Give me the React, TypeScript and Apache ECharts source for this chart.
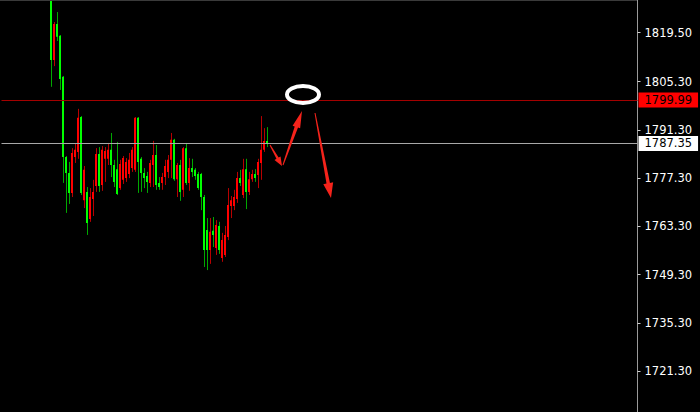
import React, { useEffect, useRef } from "react";
import * as echarts from "echarts";

const CATEGORY_COUNT = 212;
const FIRST_INDEX = 16;

const opens = [
  1831.9, 1811.6, 1822.0, 1818.6, 1806.7, 1783.4, 1778.8, 1773.0, 1783.4, 1784.9,
  1795.0, 1770.9, 1773.3, 1765.4, 1771.2, 1775.0, 1784.3, 1775.3, 1782.9, 1782.9,
  1785.5, 1781.1, 1779.9, 1774.4, 1776.8, 1777.3, 1778.5, 1780.2, 1779.7, 1794.8,
  1782.9, 1778.8, 1777.9, 1775.9, 1781.1, 1784.0, 1775.9, 1775.9, 1777.6, 1779.1,
  1782.6, 1788.4, 1777.0, 1781.1, 1773.9, 1786.0, 1775.9, 1780.2, 1779.7, 1778.5,
  1778.5, 1771.8, 1762.2, 1756.4, 1762.0, 1757.0, 1763.4, 1754.1, 1755.0, 1760.2,
  1769.2, 1769.2, 1771.2, 1777.3, 1772.4, 1779.9, 1773.3, 1777.0, 1778.5, 1778.2,
  1781.7, 1785.5, 1788.1,
];
const closes = [
  1811.6, 1822.0, 1818.3, 1806.1, 1783.4, 1778.8, 1773.0, 1784.6, 1785.5, 1794.8,
  1773.0, 1779.7, 1764.3, 1771.8, 1773.3, 1784.3, 1775.0, 1785.5, 1785.2, 1785.5,
  1781.1, 1776.2, 1772.7, 1781.4, 1783.1, 1782.0, 1782.6, 1785.5, 1794.8, 1782.0,
  1778.8, 1777.3, 1776.2, 1781.7, 1784.0, 1775.3, 1774.7, 1777.6, 1780.8, 1782.6,
  1788.4, 1777.0, 1781.1, 1773.3, 1786.0, 1775.9, 1780.2, 1779.1, 1777.9, 1774.4,
  1771.8, 1756.4, 1756.4, 1761.7, 1760.8, 1763.7, 1756.4, 1759.3, 1760.8, 1769.5,
  1770.9, 1771.8, 1777.3, 1775.9, 1779.9, 1773.3, 1777.0, 1778.5, 1777.3, 1782.0,
  1785.5, 1788.1, 1787.35,
];
const lows = [
  1803.8, 1809.8, 1817.1, 1802.9, 1775.9, 1767.2, 1769.8, 1771.8, 1781.7, 1782.9,
  1772.4, 1768.6, 1760.8, 1764.6, 1766.3, 1773.3, 1773.3, 1773.6, 1776.2, 1781.1,
  1777.6, 1774.7, 1772.4, 1773.9, 1775.6, 1776.2, 1777.3, 1779.1, 1779.1, 1773.0,
  1773.3, 1774.4, 1773.0, 1774.7, 1774.7, 1773.9, 1773.9, 1773.9, 1775.3, 1777.3,
  1777.3, 1776.5, 1771.8, 1770.7, 1771.8, 1775.3, 1773.6, 1777.6, 1776.8, 1773.9,
  1768.0, 1751.5, 1750.6, 1752.4, 1757.3, 1755.0, 1755.3, 1753.0, 1754.4, 1759.3,
  1765.7, 1768.0, 1770.1, 1775.0, 1771.5, 1768.3, 1772.4, 1776.2, 1776.2, 1774.4,
  1776.8, 1784.9, 1786.3,
];
const highs = [
  1832.5, 1822.6, 1825.5, 1818.8, 1806.9, 1783.7, 1782.0, 1786.0, 1787.2, 1797.4,
  1795.3, 1780.8, 1774.7, 1774.4, 1776.8, 1786.0, 1786.3, 1786.6, 1786.3, 1787.5,
  1790.4, 1782.6, 1787.8, 1782.6, 1783.7, 1783.1, 1784.6, 1786.3, 1795.0, 1795.0,
  1783.4, 1780.2, 1779.1, 1782.6, 1788.1, 1786.9, 1777.6, 1778.8, 1782.6, 1784.0,
  1790.4, 1788.7, 1781.7, 1782.6, 1786.3, 1787.5, 1783.1, 1782.9, 1780.2, 1779.1,
  1778.8, 1772.4, 1765.7, 1765.7, 1766.0, 1765.1, 1764.6, 1761.4, 1763.4, 1774.4,
  1772.1, 1773.9, 1779.1, 1779.7, 1782.9, 1782.9, 1779.1, 1779.7, 1779.9, 1782.9,
  1795.3, 1791.8, 1792.1,
];

const TICK_VALUES = [1721.3, 1735.3, 1749.3, 1763.3, 1777.3, 1791.3, 1805.3, 1819.5];
const ASK = 1799.99;
const BID = 1787.35;
const Y_MIN = 1709.4;
const Y_MAX = 1829.0;

const FONT = "DejaVu Sans";

function arrowPoints(
  x1: number, y1: number, x2: number, y2: number,
  headLen: number, headW: number, w0: number, w1: number
): number[][] {
  const dx = x2 - x1;
  const dy = y2 - y1;
  const L = Math.sqrt(dx * dx + dy * dy);
  const ux = dx / L, uy = dy / L;
  const nx = -uy, ny = ux;
  const bx = x2 - ux * headLen, by = y2 - uy * headLen;
  return [
    [x1 + nx * w0 / 2, y1 + ny * w0 / 2],
    [bx + nx * w1 / 2, by + ny * w1 / 2],
    [bx + nx * headW / 2, by + ny * headW / 2],
    [x2, y2],
    [bx - nx * headW / 2, by - ny * headW / 2],
    [bx - nx * w1 / 2, by - ny * w1 / 2],
    [x1 - nx * w0 / 2, y1 - ny * w0 / 2],
  ];
}

export default function App() {
  const ref = useRef<HTMLDivElement>(null);
  useEffect(() => {
    if (!ref.current) return;
    const chart = echarts.init(ref.current, null, { renderer: "svg" });
    const categories = Array.from({ length: CATEGORY_COUNT }, (_, i) => String(i));
    const data = opens.map((o, i) => [FIRST_INDEX + i, o, closes[i], lows[i], highs[i]]);
    const arrowColor = "#f5231b";

    chart.setOption({
      animation: false,
      backgroundColor: "#000000",
      grid: { left: 1.5, right: 62.5, top: 0, bottom: 0, containLabel: false },
      xAxis: {
        type: "category",
        data: categories,
        boundaryGap: true,
        show: false,
      },
      yAxis: {
        type: "value",
        position: "right",
        min: Y_MIN,
        max: Y_MAX,
        scale: true,
        splitLine: { show: false },
        axisLine: { show: true, lineStyle: { color: "#9a9a9a", width: 1 } },
        axisTick: {
          show: true,
          inside: false,
          length: 3,
          lineStyle: { color: "#d0d0d0" },
          customValues: TICK_VALUES,
        },
        axisLabel: {
          show: true,
          margin: 7,
          color: "#ffffff",
          fontFamily: FONT,
          fontSize: 11.5,
          customValues: TICK_VALUES,
          formatter: (v: number) => v.toFixed(2),
        },
      },
      series: [
        {
          type: "custom",
          clip: true,
          encode: { x: 0, y: [1, 2, 3, 4] },
          data,
          renderItem: (_params: any, api: any) => {
            const idx = api.value(0);
            const o = api.value(1);
            const c = api.value(2);
            const l = api.value(3);
            const h = api.value(4);
            const pO = api.coord([idx, o]);
            const pC = api.coord([idx, c]);
            const pL = api.coord([idx, l]);
            const pH = api.coord([idx, h]);
            const up = c > o;
            const left = Math.round(pO[0]) - 1;
            const top = Math.min(pO[1], pC[1]);
            let hgt = Math.abs(pO[1] - pC[1]);
            if (hgt < 1) hgt = 1;
            return {
              type: "group",
              children: [
                {
                  type: "line",
                  shape: { x1: left + 1.5, y1: pH[1], x2: left + 1.5, y2: pL[1] },
                  style: { stroke: up ? "#b80000" : "#00a800", lineWidth: 1 },
                },
                {
                  type: "rect",
                  shape: { x: left, y: top, width: 2, height: hgt },
                  style: { fill: up ? "#ff0000" : "#00ff00" },
                },
              ],
            };
          },
          markLine: {
            silent: true,
            symbol: ["none", "none"],
            data: [
              {
                yAxis: ASK,
                lineStyle: { color: "#a40000", width: 1, type: "solid" },
                label: {
                  show: true,
                  position: "end",
                  distance: 1,
                  formatter: () => ASK.toFixed(2),
                  color: "#000000",
                  backgroundColor: "#ff0000",
                  padding: [2, 6, 1, 6],
                  fontFamily: FONT,
                  fontSize: 11.5,
                },
              },
              {
                yAxis: BID,
                lineStyle: { color: "#a8a8a8", width: 1, type: "solid" },
                label: {
                  show: true,
                  position: "end",
                  distance: 1,
                  formatter: () => BID.toFixed(2),
                  color: "#000000",
                  backgroundColor: "#ffffff",
                  padding: [2, 6, 1, 6],
                  fontFamily: FONT,
                  fontSize: 11.5,
                },
              },
            ],
          },
        },
      ],
      graphic: [
        {
          type: "line",
          shape: { x1: 0, y1: 0.5, x2: 637, y2: 0.5 },
          style: { stroke: "#3a3a3a", lineWidth: 1 },
          z: 10,
        },
        {
          type: "ellipse",
          shape: { cx: 303, cy: 94.5, rx: 16, ry: 8.5 },
          style: { fill: "none", stroke: "#ffffff", lineWidth: 4 },
          z: 20,
        },
        {
          type: "polygon",
          shape: { points: arrowPoints(270, 145, 282, 166, 9, 7, 1, 2.5) },
          style: { fill: arrowColor },
          z: 20,
        },
        {
          type: "polygon",
          shape: { points: arrowPoints(283, 165, 302, 111, 17, 8, 1, 3.5) },
          style: { fill: arrowColor },
          z: 20,
        },
        {
          type: "polygon",
          shape: { points: arrowPoints(315, 113, 331, 198, 15, 10, 1, 3.5) },
          style: { fill: arrowColor },
          z: 20,
        },
      ],
    });
    return () => chart.dispose();
  }, []);
  return (
    <div
      ref={ref}
      style={{ position: "fixed", left: 0, top: 0, width: 700, height: 412, background: "#000" }}
    />
  );
}
